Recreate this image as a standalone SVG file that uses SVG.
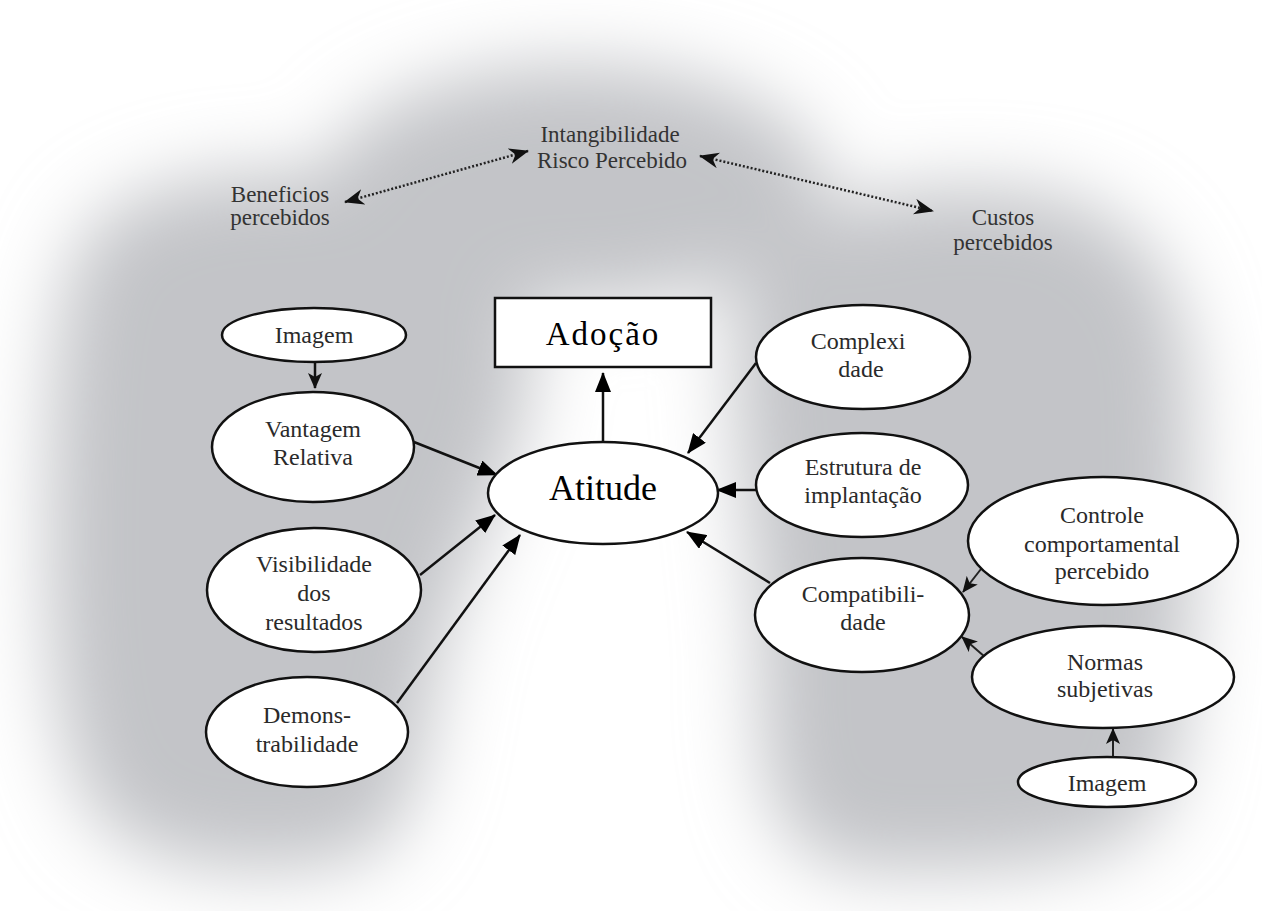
<svg xmlns="http://www.w3.org/2000/svg" width="1262" height="911" viewBox="0 0 1262 911">
<style>
.node{fill:#fff;stroke:#111;stroke-width:2.5}
.t{font-family:"Liberation Serif","Times New Roman",serif;font-size:24px;fill:#2a2a2a;text-anchor:middle}
.top{font-family:"Liberation Serif","Times New Roman",serif;font-size:23px;fill:#333;text-anchor:middle}
.big{font-family:"Liberation Serif","Times New Roman",serif;fill:#000;text-anchor:middle}
.c{stroke:#111;stroke-width:2.5;fill:none}
.cs{stroke:#222;stroke-width:2;fill:none}
.dot{stroke:#222;stroke-width:2.5;fill:none;stroke-dasharray:2 2}
</style>
<defs>
<filter id="soft" x="-50%" y="-50%" width="200%" height="200%"><feGaussianBlur stdDeviation="38"/></filter>
<marker id="ah" markerUnits="userSpaceOnUse" markerWidth="20" markerHeight="16" refX="19" refY="8" orient="auto"><path d="M0,0 L20,8 L0,16 z" fill="#000"/></marker>
<marker id="as" markerUnits="userSpaceOnUse" markerWidth="16" markerHeight="14" refX="15" refY="7" orient="auto"><path d="M0,0 L16,7 L0,14 L4,7 z" fill="#111"/></marker>
<marker id="ad" markerUnits="userSpaceOnUse" markerWidth="20" markerHeight="16" refX="19" refY="8" orient="auto-start-reverse"><path d="M0,0 L20,8 L0,16 L6,8 z" fill="#111"/></marker>
</defs>
<rect width="1262" height="911" fill="#fff"/>
<g id="background" filter="url(#soft)" fill="#c3c4c8">
<path d="M100,220 C180,160 330,160 420,200 C500,240 540,300 530,380 C520,470 460,560 440,660 C420,760 420,840 350,860 C260,880 150,870 100,820 C50,760 45,600 50,460 C55,340 60,260 100,220 z"/>
<path d="M740,290 C790,200 900,180 1020,190 C1130,200 1185,270 1190,380 C1195,520 1195,700 1165,800 C1130,870 1000,875 860,870 C760,860 760,760 760,660 C755,540 720,380 740,290 z"/>
<ellipse cx="575" cy="185" rx="250" ry="120"/>
</g>
<g id="connectors">
<line class="dot" x1="345" y1="202" x2="528" y2="151" marker-start="url(#ad)" marker-end="url(#ad)"/>
<line class="dot" x1="700" y1="156" x2="933" y2="211" marker-start="url(#ad)" marker-end="url(#ad)"/>
<line class="c" x1="315" y1="362" x2="315" y2="388" marker-end="url(#as)"/>
<line class="c" x1="603" y1="442" x2="603" y2="373" marker-end="url(#ah)"/>
<line class="c" x1="414" y1="442" x2="497" y2="475" marker-end="url(#ah)"/>
<line class="c" x1="420" y1="575" x2="495" y2="515" marker-end="url(#ah)"/>
<line class="c" x1="397" y1="703" x2="520" y2="535" marker-end="url(#ah)"/>
<line class="c" x1="756" y1="363" x2="688" y2="453" marker-end="url(#ah)"/>
<line class="c" x1="756" y1="490" x2="717" y2="490" marker-end="url(#ah)"/>
<line class="c" x1="770" y1="583" x2="687" y2="532" marker-end="url(#ah)"/>
<line class="cs" x1="981" y1="569" x2="963" y2="592" marker-end="url(#as)"/>
<line class="cs" x1="985" y1="657" x2="962" y2="637" marker-end="url(#as)"/>
<line class="cs" x1="1113" y1="757" x2="1113" y2="729" marker-end="url(#as)"/>
</g>
<g id="beneficios"><text class="top" x="280" y="202">Beneficios</text><text class="top" x="280" y="225">percebidos</text></g>
<g id="intangibilidade"><text class="top" x="610" y="142">Intangibilidade</text><text class="top" x="612" y="168">Risco Percebido</text></g>
<g id="custos"><text class="top" x="1003" y="225">Custos</text><text class="top" x="1003" y="250">percebidos</text></g>
<g id="adocao"><rect x="495" y="298" width="216" height="69" fill="#fff" stroke="#111" stroke-width="2.5"/><text class="big" x="603" y="345" font-size="33" letter-spacing="2">Adoção</text></g>
<g id="atitude"><ellipse class="node" cx="603" cy="493" rx="115" ry="51"/><text class="big" x="603" y="500" font-size="36">Atitude</text></g>
<g id="imagem1"><ellipse class="node" cx="314" cy="335" rx="92" ry="27"/><text class="t" x="314" y="343">Imagem</text></g>
<g id="vantagem"><ellipse class="node" cx="313" cy="447" rx="101" ry="55"/><text class="t" x="313" y="437">Vantagem</text><text class="t" x="313" y="465">Relativa</text></g>
<g id="visibilidade"><ellipse class="node" cx="314" cy="590" rx="107" ry="62"/><text class="t" x="314" y="572">Visibilidade</text><text class="t" x="314" y="601">dos</text><text class="t" x="314" y="630">resultados</text></g>
<g id="demons"><ellipse class="node" cx="307" cy="732" rx="101" ry="55"/><text class="t" x="307" y="723">Demons-</text><text class="t" x="307" y="752">trabilidade</text></g>
<g id="complexidade"><ellipse class="node" cx="863" cy="357" rx="107" ry="52"/><text class="t" x="858" y="349">Complexi</text><text class="t" x="861" y="377">dade</text></g>
<g id="estrutura"><ellipse class="node" cx="862" cy="485" rx="106" ry="52"/><text class="t" x="863" y="475">Estrutura de</text><text class="t" x="863" y="503">implantação</text></g>
<g id="compatibilidade"><ellipse class="node" cx="862" cy="615" rx="107" ry="57"/><text class="t" x="863" y="602">Compatibili-</text><text class="t" x="863" y="630">dade</text></g>
<g id="controle"><ellipse class="node" cx="1103" cy="541" rx="135" ry="64"/><text class="t" x="1102" y="523">Controle</text><text class="t" x="1102" y="552">comportamental</text><text class="t" x="1102" y="579">percebido</text></g>
<g id="normas"><ellipse class="node" cx="1103" cy="677" rx="131" ry="51"/><text class="t" x="1105" y="670">Normas</text><text class="t" x="1105" y="697">subjetivas</text></g>
<g id="imagem2"><ellipse class="node" cx="1107" cy="782" rx="89" ry="25"/><text class="t" x="1107" y="791">Imagem</text></g>
</svg>
